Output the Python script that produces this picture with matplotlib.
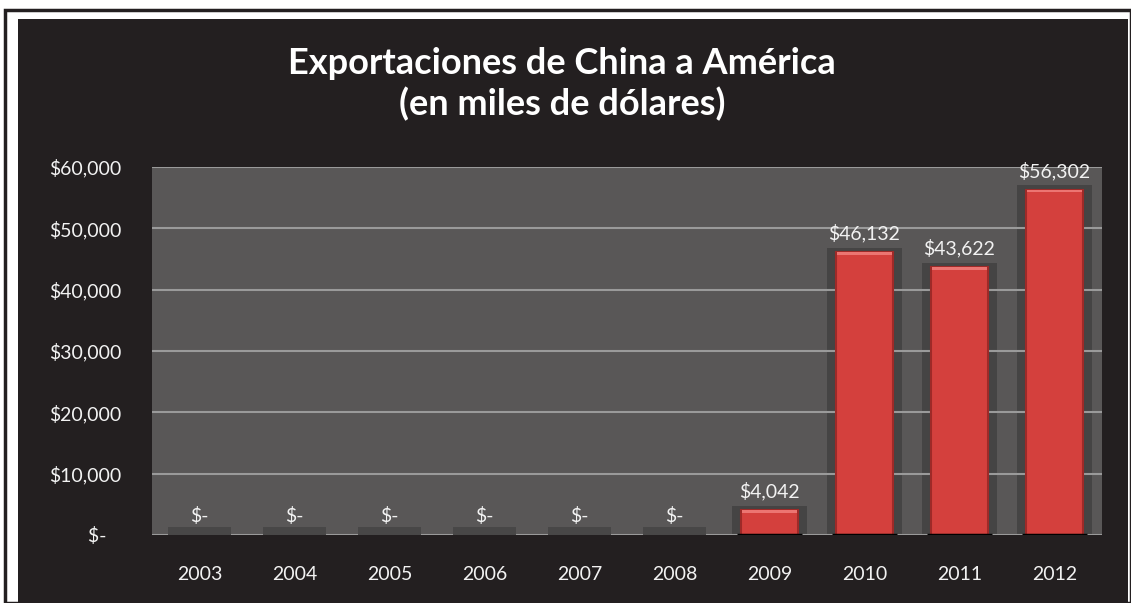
import matplotlib.pyplot as plt
from matplotlib.patches import Rectangle

# Data
years = ["2003", "2004", "2005", "2006", "2007", "2008", "2009", "2010", "2011", "2012"]
exports = [0, 0, 0, 0, 0, 0, 4042, 46132, 43622, 56302]
y_ticks = [0, 10000, 20000, 30000, 40000, 50000, 60000]

W, H = 1131, 603
plt.rcParams["font.family"] = ["Lato", "DejaVu Sans"]
fig = plt.figure(figsize=(W / 100, H / 100), dpi=100, facecolor="white")

# frame and dark chart background
fig.patches.append(Rectangle((5 / W, 0), (W - 5) / W, (H - 10) / H, transform=fig.transFigure,
                             facecolor="white", edgecolor="#231f20", linewidth=2.5, zorder=-2))
fig.patches.append(Rectangle((18 / W, 0), (1128 - 18) / W, (H - 19) / H, transform=fig.transFigure,
                             facecolor="#231f20", edgecolor="none", zorder=-1))

ax = fig.add_axes([152 / W, (H - 535) / H, 950 / W, 368 / H])
ax.set_zorder(1)
ax.set_facecolor("#595757")
x = list(range(len(years)))

# shadows behind bars and floor slabs for zero values
for xi, v in zip(x, exports):
    if v == 0:
        ax.bar(xi, 1300, width=0.67, color="#484747", zorder=3)
    else:
        ax.bar(xi, v + 700, width=0.79, color="#454444", zorder=1)
        ax.bar(xi, v, width=0.6, color="#d4403d", edgecolor="#9e2a28", linewidth=1.5, zorder=4)
        ax.bar(xi, 450, bottom=v - 450, width=0.57, color="#ec7572", zorder=5)
        ax.plot([xi - 0.34, xi + 0.34], [0, 0], color="black", linewidth=2.5, zorder=6,
                solid_capstyle="butt")

# value labels
for xi, v in zip(x, exports):
    label = "$-" if v == 0 else f"${v:,}"
    ax.annotate(label, (xi, v), xytext=(0, 7), textcoords="offset points",
                ha="center", va="bottom", color="#f2f2f2", fontsize=14, zorder=7)

ax.set_ylim(0, 60000)
ax.set_xlim(-0.5, len(years) - 0.5)
ax.set_yticks(y_ticks)
ax.set_yticklabels(["$-   "] + [f"${t:,}" for t in y_ticks[1:]])
ax.set_xticks(x)
ax.set_xticklabels(years)
ax.tick_params(axis="y", length=0, pad=22, colors="#f2f2f2", labelsize=14)
ax.tick_params(axis="x", length=0, pad=22, colors="#f2f2f2", labelsize=14)
ax.grid(axis="y", color="#9a9a9a", linewidth=1.5)
ax.set_axisbelow("line")
for s in ax.spines.values():
    s.set_visible(False)

fig.text(0.497, 1 - 84 / H, "Exportaciones de China a América\n(en miles de dólares)",
         ha="center", va="center", color="white", fontsize=26, fontweight="bold",
         linespacing=1.25)

plt.savefig("out.png", dpi=100, facecolor="white")
